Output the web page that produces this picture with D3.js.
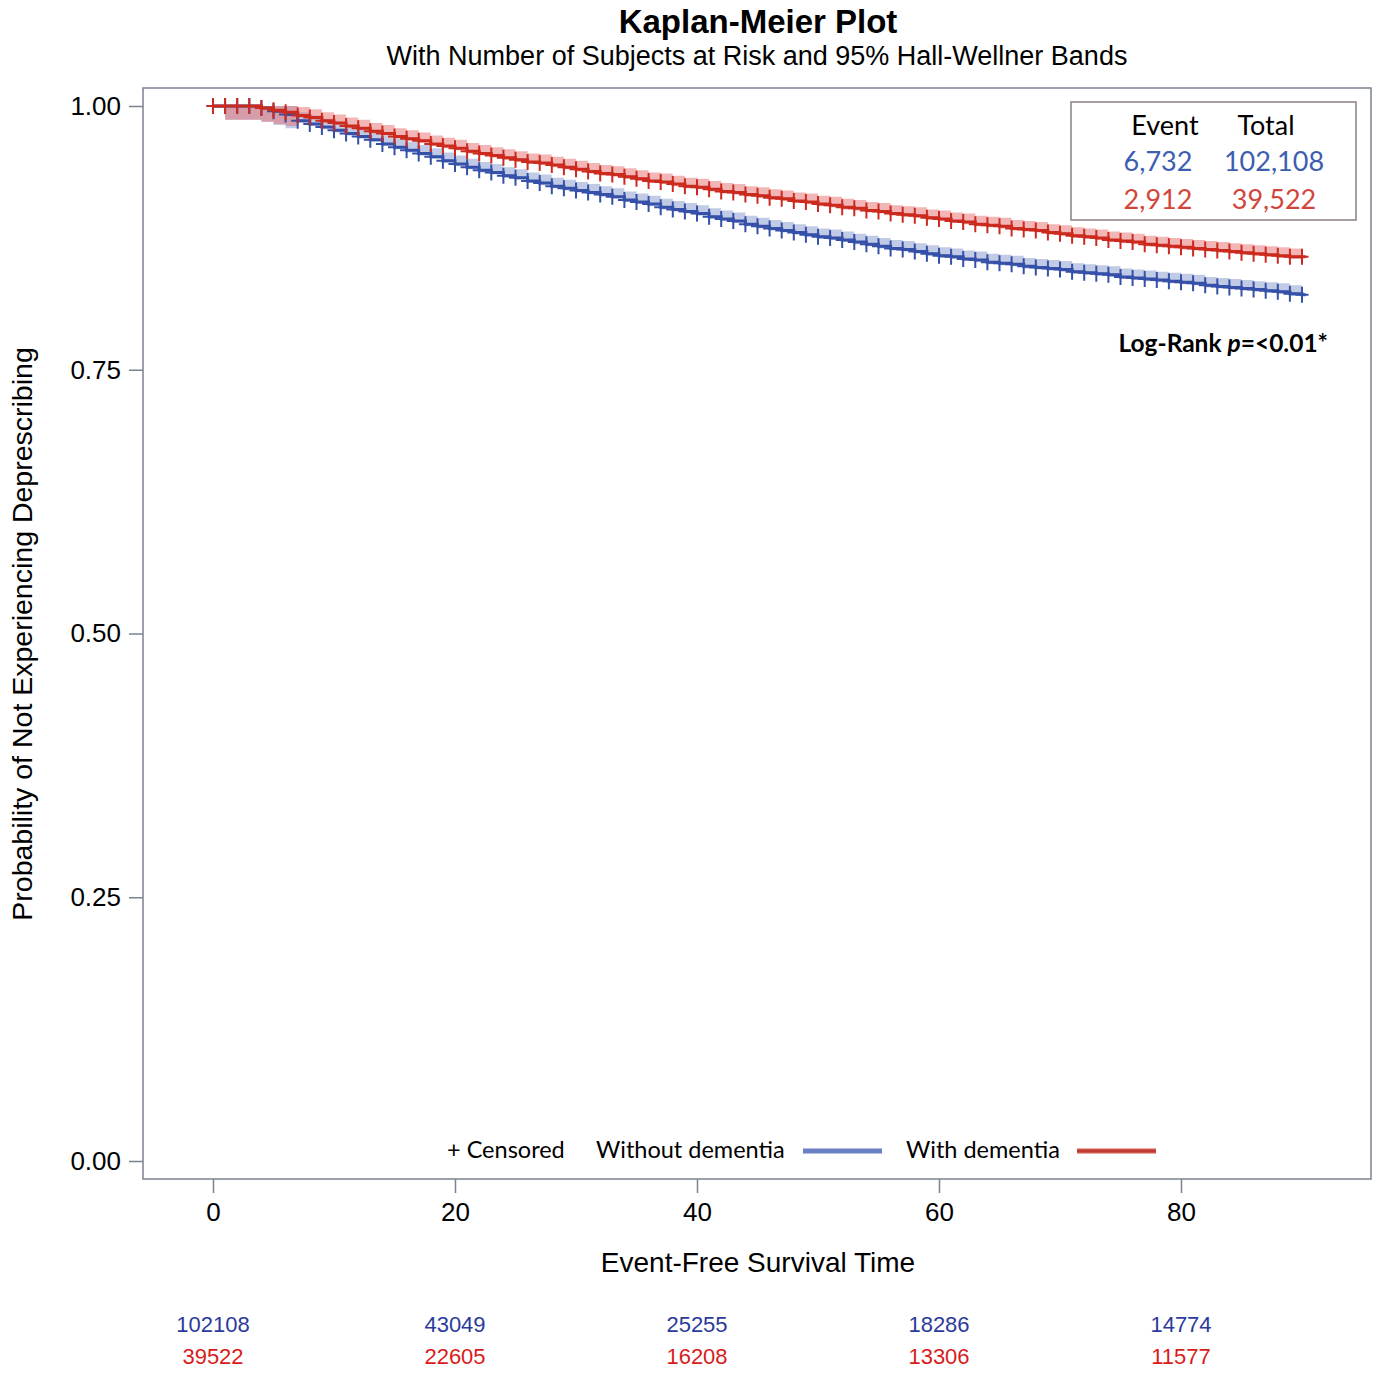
<!DOCTYPE html>
<html>
<head>
<meta charset="utf-8">
<script src="https://cdn.jsdelivr.net/npm/d3@7/dist/d3.min.js"></script>
<style>
  html, body { margin: 0; padding: 0; background: #fff; }
  svg { display: block; }
</style>
</head>
<body>
<svg id="chart" width="1380" height="1388"></svg>
<script>
// ---------------- DATA ----------------
const months = d3.range(0, 91); // 0..90 months
const survWithout = [
  1.000,1.000,1.000,1.000,0.998,0.995,0.992,0.986,0.983,0.980,
  0.977,0.974,0.971,0.968,0.964,0.961,0.958,0.955,0.952,0.948,
  0.945,0.942,0.939,0.937,0.934,0.932,0.929,0.927,0.924,0.922,
  0.920,0.918,0.916,0.914,0.911,0.909,0.907,0.904,0.902,0.900,
  0.898,0.895,0.893,0.891,0.888,0.886,0.884,0.882,0.880,0.878,
  0.876,0.875,0.873,0.871,0.869,0.867,0.865,0.864,0.862,0.860,
  0.858,0.857,0.855,0.854,0.852,0.851,0.850,0.848,0.847,0.846,
  0.845,0.843,0.842,0.841,0.840,0.838,0.837,0.836,0.835,0.834,
  0.833,0.832,0.830,0.829,0.828,0.827,0.826,0.825,0.824,0.822,
  0.821
];
const survWith = [
  1.000,1.000,1.000,1.000,0.998,0.996,0.994,0.991,0.989,0.986,
  0.984,0.981,0.979,0.976,0.974,0.971,0.969,0.967,0.964,0.962,
  0.960,0.957,0.955,0.953,0.951,0.949,0.947,0.946,0.944,0.942,
  0.940,0.938,0.936,0.935,0.933,0.931,0.929,0.928,0.926,0.924,
  0.923,0.921,0.919,0.918,0.916,0.915,0.913,0.912,0.910,0.909,
  0.907,0.906,0.904,0.903,0.901,0.900,0.898,0.897,0.896,0.894,
  0.893,0.891,0.890,0.888,0.887,0.886,0.884,0.883,0.882,0.880,
  0.879,0.877,0.876,0.875,0.873,0.872,0.871,0.869,0.868,0.867,
  0.866,0.865,0.864,0.863,0.862,0.861,0.860,0.859,0.858,0.857,
  0.857
];
// Hall-Wellner band offsets (upper above, lower below the estimate)
const bandUpper = 0.008;
const bandLower = 0.002;
const bandLowerEarly = 0.013; // wider band during first months
const earlyMonths = [1, 6];

const xTicks = [0, 20, 40, 60, 80];
const yTicks = [0, 0.25, 0.5, 0.75, 1.0];
const atRiskTimes = [0, 20, 40, 60, 80];
const atRiskWithout = [102108, 43049, 25255, 18286, 14774];
const atRiskWith = [39522, 22605, 16208, 13306, 11577];

const groups = ["Without dementia", "With dementia"];
const events = ["6,732", "2,912"];
const totals = ["102,108", "39,522"];

// ---------------- DRAW ----------------
const svg = d3.select("#chart");
const FONT = "'Liberation Sans', Arial, sans-serif";
const FONT2 = "Lato, 'Open Sans', sans-serif";

const frame = { left: 143, right: 1371, top: 88, bottom: 1179 };
const x = d3.scaleLinear().domain([0, 80]).range([213, 1181]);
const y = d3.scaleLinear().domain([0, 1]).range([1161, 106]);

const colBlue = "#3550a8", colRed = "#cc2a1e";
const bandBlue = "rgba(120,140,200,0.45)", bandRed = "rgba(232,110,110,0.5)";

// Title
svg.append("text").attr("x", 758).attr("y", 33).attr("text-anchor", "middle")
  .style("font-family", FONT).style("font-weight", "bold").style("font-size", "33px")
  .text("Kaplan-Meier Plot");
svg.append("text").attr("x", 757).attr("y", 65).attr("text-anchor", "middle")
  .style("font-family", FONT).style("font-size", "27px")
  .text("With Number of Subjects at Risk and 95% Hall-Wellner Bands");

// Axes
const xAxis = d3.axisBottom(x).tickValues(xTicks).tickSize(14).tickPadding(10).tickFormat(d3.format("d"));
const gx = svg.append("g").attr("transform", `translate(0,${frame.bottom})`).call(xAxis);
gx.select(".domain").remove();
gx.selectAll("line").attr("stroke", "#7a8290").attr("stroke-width", 1.5);
gx.selectAll("text").style("font-family", FONT).style("font-size", "26px").attr("fill", "#000");

const yAxis = d3.axisLeft(y).tickValues(yTicks).tickSize(14).tickPadding(8).tickFormat(d3.format(".2f"));
const gy = svg.append("g").attr("transform", `translate(${frame.left},0)`).call(yAxis);
gy.select(".domain").remove();
gy.selectAll("line").attr("stroke", "#7a8290").attr("stroke-width", 1.5);
gy.selectAll("text").style("font-family", FONT).style("font-size", "26px").attr("fill", "#000");

// Frame
svg.append("rect").attr("x", frame.left).attr("y", frame.top)
  .attr("width", frame.right - frame.left).attr("height", frame.bottom - frame.top)
  .attr("fill", "none").attr("stroke", "#7a8290").attr("stroke-width", 1.5);

// Axis labels
svg.append("text").attr("x", 758).attr("y", 1272).attr("text-anchor", "middle")
  .style("font-family", FONT).style("font-size", "28px").text("Event-Free Survival Time");
svg.append("text").attr("transform", "translate(32,634) rotate(-90)").attr("text-anchor", "middle")
  .style("font-family", FONT).style("font-size", "28.5px").text("Probability of Not Experiencing Deprescribing");

// Curves
function series(vals) { return months.map((t, i) => ({ t, v: vals[i] })); }
const curveData = [
  { name: groups[0], data: series(survWithout), line: colBlue, band: bandBlue },
  { name: groups[1], data: series(survWith), line: colRed, band: bandRed }
];
const area = d3.area().curve(d3.curveStepAfter)
  .x(d => x(d.t))
  .y0(d => y(d.v - ((d.t >= earlyMonths[0] && d.t <= earlyMonths[1]) ? bandLowerEarly : bandLower)))
  .y1(d => y(Math.min(1, d.v + bandUpper)));
const line = d3.line().curve(d3.curveStepAfter).x(d => x(d.t)).y(d => y(d.v));

curveData.forEach(s => {
  svg.append("path").datum(s.data).attr("d", area).attr("fill", s.band);
});
curveData.forEach(s => {
  const ext = s.data.concat([{ t: 90.3, v: s.data[s.data.length - 1].v }]);
  svg.append("path").datum(ext).attr("d", line).attr("fill", "none")
    .attr("stroke", s.line).attr("stroke-width", 3);
  const mh = 6.5, mv = 8;
  svg.append("g").selectAll("path").data(s.data).join("path")
    .attr("d", d => `M${x(d.t) - mh},${y(d.v)}h${2 * mh}M${x(d.t)},${y(d.v) - mv}v${2 * mv}`)
    .attr("stroke", s.line).attr("stroke-width", 2).attr("fill", "none");
});

// Inset event table
svg.append("rect").attr("x", 1071).attr("y", 102).attr("width", 285).attr("height", 118)
  .attr("fill", "#fff").attr("stroke", "#8a8080").attr("stroke-width", 1.5);
const hdrX = [1165, 1266];
const colX = [1158, 1274];
["Event", "Total"].forEach((h, i) => {
  svg.append("text").attr("x", hdrX[i]).attr("y", 135).attr("text-anchor", "middle")
    .style("font-family", FONT2).style("font-size", "27px").attr("fill", "#000").text(h);
});
const tblCols = ["#3d5db0", "#d2453a"];
[0, 1].forEach(r => {
  const yy = 171 + r * 38;
  svg.append("text").attr("x", colX[0]).attr("y", yy).attr("text-anchor", "middle")
    .style("font-family", FONT2).style("font-size", "27px").attr("fill", tblCols[r]).text(events[r]);
  svg.append("text").attr("x", colX[1]).attr("y", yy).attr("text-anchor", "middle")
    .style("font-family", FONT2).style("font-size", "27px").attr("fill", tblCols[r]).text(totals[r]);
});

// Log-rank
const lr = svg.append("text").attr("x", 1328).attr("y", 352).attr("text-anchor", "end")
  .style("font-family", FONT2).style("font-weight", "bold").style("font-size", "24.5px");
lr.append("tspan").text("Log-Rank ");
lr.append("tspan").style("font-style", "italic").text("p");
lr.append("tspan").text("=<0.01*");

// Bottom legend
const lg = svg.append("g").style("font-family", FONT2).style("font-size", "23.5px");
lg.append("text").attr("x", 447).attr("y", 1158).text("+ Censored");
lg.append("text").attr("x", 596).attr("y", 1158).text(groups[0]);
lg.append("line").attr("x1", 803).attr("x2", 882).attr("y1", 1151).attr("y2", 1151)
  .attr("stroke", "#6a7fc4").attr("stroke-width", 5);
lg.append("text").attr("x", 906).attr("y", 1158).text(groups[1]);
lg.append("line").attr("x1", 1077).attr("x2", 1156).attr("y1", 1151).attr("y2", 1151)
  .attr("stroke", "#d0554a").attr("stroke-width", 5);
lg.append("line").attr("x1", 1077).attr("x2", 1156).attr("y1", 1151).attr("y2", 1151)
  .attr("stroke", "#b83028").attr("stroke-width", 1.5);

// At-risk table
const ar = svg.append("g").style("font-family", FONT).style("font-size", "22px").attr("text-anchor", "middle");
ar.selectAll(".rw").data(atRiskTimes).join("text").attr("class", "rw")
  .attr("x", d => x(d)).attr("y", 1332).attr("fill", "#2b3b9c")
  .text((d, i) => atRiskWithout[i]);
ar.selectAll(".rd").data(atRiskTimes).join("text").attr("class", "rd")
  .attr("x", d => x(d)).attr("y", 1364).attr("fill", "#d81c1c")
  .text((d, i) => atRiskWith[i]);
</script>
</body>
</html>
